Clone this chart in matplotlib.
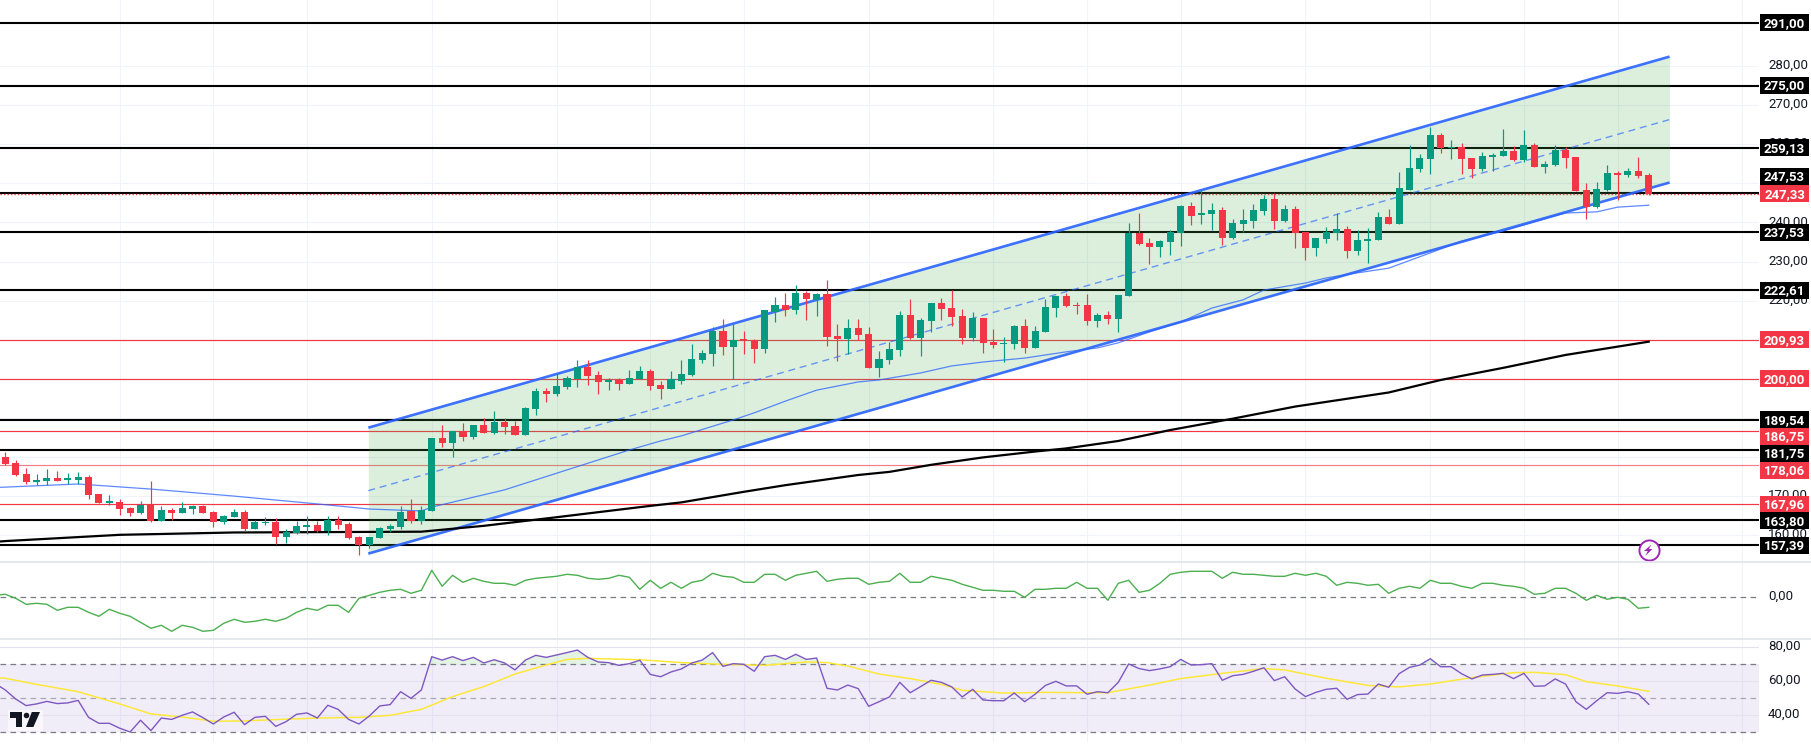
# -*- coding: utf-8 -*-
"""Daily candles with trend channel, money flow and RSI panes"""

import matplotlib as mpl
import matplotlib.pyplot as plt
from matplotlib.lines import Line2D
from matplotlib.patches import Polygon, Rectangle
from matplotlib.transforms import ScaledTranslation, blended_transform_factory

mpl.rcParams["font.family"] = ["Roboto", "DejaVu Sans"]

WIDTH, HEIGHT = 1811, 748
SCALE_X = 1759  # where the price scale begins, in pixels

opens = [
    180.0, 178.5, 175.7, 173.6, 173.9, 174.7, 174.2, 174.1, 174.9, 170.6,
    168.3, 168.5, 167.0, 165.7, 167.7, 163.7, 166.5, 165.7, 166.7, 167.5,
    166.0, 163.4, 164.7, 166.0, 161.6, 163.1, 163.4, 159.6, 160.5, 162.2,
    162.6, 161.1, 163.9, 162.9, 159.6, 157.5, 159.3, 161.6, 162.1, 166.2,
    163.7, 166.2, 184.9, 183.6, 186.7, 185.1, 188.2, 186.1, 189.0, 187.9,
    185.6, 192.3, 196.9, 196.1, 197.9, 200.0, 203.0, 201.0, 199.2, 199.7,
    198.7, 199.9, 202.0, 198.4, 197.4, 199.4, 201.0, 204.8, 206.3, 212.2,
    208.1, 209.9, 209.9, 207.6, 217.1, 218.9, 217.6, 221.9, 220.2, 221.7,
    211.0, 210.2, 213.0, 211.5, 202.8, 204.8, 207.4, 216.3, 210.4, 214.8,
    219.4, 218.1, 216.1, 210.4, 215.6, 209.4, 208.9, 208.9, 213.5, 207.9,
    212.0, 218.1, 221.2, 218.9, 218.9, 214.8, 216.3, 215.3, 221.2, 237.3,
    234.7, 233.7, 235.0, 237.3, 244.2, 241.9, 242.2, 243.2, 236.0, 239.6,
    240.4, 242.9, 246.0, 240.4, 243.4, 237.6, 233.5, 235.8, 237.3, 238.3,
    232.7, 235.3, 235.5, 241.4, 239.6, 248.3, 253.7, 256.2, 262.4, 259.0,
    259.3, 256.5, 253.7, 256.7, 257.0, 258.3, 256.0, 259.8, 254.2, 254.7,
    258.5, 256.7, 248.3, 243.9, 248.3, 252.6, 252.1, 253.2, 252.1,
]
closes = [
    178.3, 175.4, 173.6, 174.1, 174.7, 173.9, 174.4, 174.9, 170.3, 168.3,
    168.5, 166.7, 165.7, 167.7, 163.7, 166.5, 165.7, 167.0, 167.5, 165.7,
    163.4, 164.9, 166.0, 161.6, 163.4, 163.4, 159.6, 160.8, 162.4, 162.6,
    161.1, 163.9, 162.6, 159.3, 157.5, 159.6, 161.9, 162.4, 166.0, 163.7,
    166.5, 184.9, 183.6, 186.6, 185.2, 188.2, 186.2, 189.0, 187.7, 185.6,
    192.5, 196.9, 196.1, 198.2, 200.2, 203.0, 200.7, 199.2, 199.7, 198.7,
    200.2, 202.0, 198.2, 197.4, 199.9, 201.2, 205.1, 206.6, 212.2, 208.1,
    209.9, 209.8, 207.6, 217.6, 218.9, 217.6, 221.9, 220.4, 221.7, 210.7,
    210.2, 213.0, 211.2, 202.8, 205.1, 207.6, 216.3, 210.4, 215.0, 219.4,
    217.9, 215.8, 210.4, 215.6, 209.2, 208.7, 209.2, 213.5, 207.9, 212.2,
    218.4, 221.2, 218.6, 218.6, 214.8, 216.3, 215.3, 221.4, 237.3, 234.5,
    233.7, 235.2, 237.5, 244.2, 241.6, 242.4, 243.2, 236.0, 239.9, 240.6,
    243.2, 246.0, 240.4, 243.4, 237.3, 233.5, 236.0, 237.6, 238.3, 232.7,
    235.5, 235.8, 241.4, 239.6, 248.8, 253.9, 256.5, 262.4, 259.0, 259.3,
    256.2, 253.7, 257.0, 257.2, 258.3, 256.0, 259.8, 254.2, 254.9, 258.5,
    256.5, 248.0, 243.9, 248.5, 252.6, 252.1, 253.2, 251.9, 247.33,
]
highs = [
    181.4, 179.3, 177.1, 175.7, 177.0, 176.4, 175.8, 176.2, 175.4, 170.6,
    170.3, 169.3, 167.2, 168.8, 173.9, 167.5, 167.0, 168.5, 167.7, 167.7,
    166.2, 165.2, 166.7, 166.5, 163.9, 164.7, 164.4, 161.5, 163.6, 164.9,
    163.6, 164.9, 164.9, 163.4, 159.8, 159.6, 162.2, 162.9, 167.5, 169.3,
    167.5, 184.9, 188.2, 186.6, 188.7, 188.2, 190.0, 191.8, 190.0, 189.2,
    192.8, 197.6, 197.6, 201.2, 200.7, 204.8, 204.8, 202.0, 200.2, 200.2,
    202.3, 203.3, 202.5, 199.4, 202.0, 204.8, 208.9, 207.4, 213.3, 215.3,
    214.0, 212.2, 210.2, 217.6, 220.9, 221.9, 224.0, 222.5, 221.9, 225.3,
    214.0, 215.3, 215.3, 213.3, 207.1, 209.4, 217.3, 220.4, 215.6, 219.4,
    220.7, 222.7, 217.9, 217.1, 215.6, 212.7, 210.7, 213.8, 215.3, 213.5,
    220.4, 221.2, 221.9, 219.6, 221.7, 216.8, 217.3, 221.4, 239.9, 242.4,
    236.0, 235.5, 238.1, 244.5, 245.2, 248.3, 245.0, 243.9, 240.9, 243.4,
    244.7, 247.0, 247.5, 244.5, 244.2, 237.6, 236.0, 238.8, 242.4, 239.1,
    238.1, 238.6, 242.7, 243.4, 252.9, 259.8, 257.5, 264.4, 262.9, 261.1,
    260.3, 256.5, 258.0, 257.8, 263.9, 259.6, 263.6, 260.3, 255.7, 259.8,
    259.3, 256.7, 250.1, 250.3, 254.7, 253.2, 253.9, 256.7, 252.6,
]
lows = [
    178.0, 175.2, 173.1, 172.8, 172.9, 173.9, 173.1, 173.1, 169.3, 168.3,
    167.7, 165.2, 164.9, 165.4, 163.4, 163.7, 163.9, 165.7, 165.4, 165.7,
    162.1, 162.9, 164.7, 161.0, 161.6, 162.6, 157.8, 157.9, 160.3, 160.3,
    160.8, 160.1, 161.6, 159.0, 155.0, 156.8, 159.3, 160.8, 161.6, 163.1,
    162.9, 166.2, 182.6, 180.0, 184.1, 184.6, 186.2, 185.8, 185.9, 185.6,
    185.6, 190.7, 194.1, 195.6, 197.4, 197.9, 198.4, 196.1, 197.1, 197.1,
    198.7, 199.9, 197.1, 194.8, 197.4, 198.7, 200.7, 204.0, 203.3, 206.1,
    199.9, 206.3, 204.0, 206.6, 214.5, 216.1, 216.6, 215.0, 216.1, 208.4,
    204.6, 206.3, 209.9, 202.8, 200.5, 203.8, 205.8, 210.2, 205.8, 212.0,
    215.0, 213.5, 208.9, 209.7, 206.6, 207.9, 204.3, 207.6, 206.6, 207.9,
    212.0, 215.8, 218.4, 216.6, 213.8, 213.3, 214.0, 212.0, 221.2, 234.2,
    229.4, 231.2, 231.7, 234.0, 239.3, 239.6, 238.1, 234.2, 235.8, 237.5,
    238.6, 241.9, 238.3, 240.1, 233.5, 230.4, 231.4, 234.7, 235.5, 230.9,
    231.7, 229.6, 235.5, 239.6, 239.6, 248.3, 252.9, 252.4, 257.8, 256.2,
    252.4, 251.4, 253.2, 253.2, 257.0, 255.7, 255.5, 254.2, 252.6, 254.4,
    253.9, 248.0, 240.9, 243.7, 248.0, 245.7, 251.6, 251.4, 247.0,
]

# the moving averages come in from the bar just left of the picture (index -1)
ma50_idx = [-1, 0, 7, 14, 22, 30, 35, 40, 41, 48, 54, 60, 63, 65, 70, 72, 75, 78, 82, 84, 88, 91,
            94, 98, 102, 105, 107, 110, 113, 116, 119, 121, 125, 127, 130, 133, 137, 140, 144,
            147, 150, 153, 155, 158]
ma50 = [172.2, 172.3, 173.1, 171.8, 170.0, 168.0, 166.7, 166.2, 167.2, 171.6, 176.7, 181.8, 184.1,
        185.4, 189.5, 191.3, 194.3, 197.1, 199.2, 199.7, 201.5, 203.3, 204.3, 205.3, 206.9, 207.9,
        209.2, 212.0, 214.5, 218.1, 220.2, 222.7, 224.5, 225.8, 227.1, 228.3, 232.2, 235.2, 237.8,
        240.1, 242.4, 242.7, 243.9, 244.4]

ma200_idx = [-1, 0, 11, 22, 40, 46, 53, 62, 65, 71, 75, 82, 85, 89, 94, 99, 102, 107, 112, 118, 124,
             133, 138, 144, 150, 158]
ma200 = [158.3, 158.5, 160.1, 160.7, 160.9, 162.4, 164.6, 167.5, 168.4, 171.1, 172.8, 175.4, 176.2,
         178.0, 179.9, 181.4, 182.2, 184.1, 186.9, 189.8, 192.9, 196.5, 199.7, 202.8, 206.1, 209.5]

channel_idx = [34.9, 160.0]
channel_upper = [187.5, 282.4]
channel_mid = [171.4, 266.3]
channel_lower = [155.3, 250.2]

black_levels = [291.00, 275.00, 259.13, 247.53, 237.53, 222.61, 189.54, 181.75, 163.80, 157.39]
red_levels = [209.93, 200.00, 186.75, 178.06, 167.96]
last_price = 247.33

# level, box colour, how far the box was pushed off its line by the scale (in price units)
price_boxes = [
    (291.00, "#000000", 0), (275.00, "#000000", 0), (259.13, "#000000", 0),
    (247.53, "#000000", 4.2), (247.33, "#F23645", 0), (237.53, "#000000", 0),
    (222.61, "#000000", 0), (209.93, "#F23645", 0), (200.00, "#F23645", 0),
    (189.54, "#000000", 0), (186.75, "#F23645", -1.5), (181.75, "#000000", -0.8),
    (178.06, "#F23645", -1.5), (167.96, "#F23645", 0), (163.80, "#000000", -0.1),
    (157.39, "#000000", 0),
]

price_grid = [160, 170, 180, 190, 200, 210, 220, 230, 240, 250, 260, 270, 280]
# the others are hidden behind the level boxes on the scale
price_ticks = [160, 170, 220, 230, 240, 260, 270, 280]
rsi_ticks = [40, 60, 80]
grid_idx = [11, 20, 29, 41, 53, 62, 71, 83, 95, 104, 113, 125, 137, 146, 155, 167]

# both indicator series start at index -1
flow = [
    0.02, 0.03, -0.01, -0.07, -0.06, -0.07, -0.13, -0.10, -0.10, -0.15, -0.19,
    -0.12, -0.16, -0.19, -0.25, -0.31, -0.28, -0.34, -0.28, -0.30, -0.34,
    -0.33, -0.26, -0.22, -0.25, -0.24, -0.22, -0.24, -0.21, -0.15, -0.11,
    -0.13, -0.08, -0.08, -0.15, -0.01, 0.02, 0.05, 0.07, 0.08, 0.04,
    0.07, 0.27, 0.11, 0.22, 0.15, 0.19, 0.16, 0.14, 0.14, 0.12,
    0.17, 0.19, 0.20, 0.21, 0.23, 0.22, 0.19, 0.18, 0.19, 0.22,
    0.20, 0.08, 0.17, 0.09, 0.15, 0.09, 0.15, 0.17, 0.24, 0.21,
    0.20, 0.15, 0.15, 0.23, 0.23, 0.17, 0.22, 0.24, 0.26, 0.16,
    0.18, 0.19, 0.19, 0.13, 0.15, 0.16, 0.24, 0.15, 0.15, 0.21,
    0.19, 0.17, 0.13, 0.10, 0.07, 0.07, 0.06, 0.06, 0.00, 0.08,
    0.08, 0.09, 0.09, 0.15, 0.09, 0.09, -0.03, 0.14, 0.17, 0.05,
    0.07, 0.14, 0.23, 0.25, 0.26, 0.26, 0.26, 0.19, 0.25, 0.23,
    0.23, 0.22, 0.21, 0.21, 0.24, 0.22, 0.24, 0.21, 0.12, 0.15,
    0.14, 0.12, 0.13, 0.04, 0.09, 0.11, 0.09, 0.17, 0.14, 0.14,
    0.11, 0.09, 0.14, 0.14, 0.12, 0.11, 0.09, 0.03, 0.04, 0.09,
    0.09, 0.04, -0.03, 0.02, -0.02, 0.00, -0.02, -0.11, -0.10,
]
rsi = [
    58.8, 54.9, 49.6, 45.7, 46.7, 48.2, 46.9, 47.3, 48.8, 38.8, 35.3,
    35.3, 32.4, 30.2, 37.1, 31.0, 38.4, 37.6, 40.0, 42.0, 38.6,
    34.9, 39.0, 41.8, 34.5, 38.8, 39.4, 33.5, 36.3, 40.6, 41.4,
    38.4, 45.9, 43.5, 37.6, 34.9, 39.6, 45.5, 46.3, 53.9, 50.0,
    54.9, 74.5, 72.5, 74.5, 72.2, 74.1, 70.8, 72.7, 70.8, 66.7,
    72.5, 75.3, 74.1, 75.5, 76.9, 78.4, 74.1, 71.4, 71.0, 69.4,
    70.4, 72.4, 64.1, 62.7, 65.5, 67.3, 70.8, 72.5, 76.9, 68.8,
    70.4, 70.0, 65.9, 74.5, 75.3, 72.9, 75.9, 72.9, 73.7, 55.9,
    54.9, 57.8, 55.7, 45.3, 48.0, 50.8, 59.4, 53.3, 56.9, 60.6,
    59.4, 56.7, 50.8, 55.3, 49.0, 48.6, 48.6, 53.1, 48.0, 52.4,
    57.6, 60.0, 57.3, 57.3, 52.4, 53.9, 53.3, 59.4, 70.2, 67.5,
    66.3, 67.3, 68.6, 72.9, 69.6, 69.8, 70.4, 60.6, 63.3, 64.1,
    65.9, 68.0, 60.4, 62.7, 55.5, 51.0, 53.5, 55.3, 55.9, 49.4,
    52.2, 52.5, 58.4, 56.5, 64.5, 68.2, 69.6, 73.3, 68.6, 68.6,
    64.5, 61.4, 63.7, 64.1, 64.7, 61.6, 64.7, 57.1, 57.3, 61.4,
    58.4, 48.0, 43.5, 48.6, 53.3, 52.9, 53.9, 52.5, 46.5,
]
rsi_ma_idx = [-1, 0, 3, 7, 11, 14, 17, 20, 23, 26, 30, 34, 37, 40, 43, 46, 49, 52, 54, 56, 61, 65,
              69, 73, 77, 79, 81, 84, 87, 90, 92, 96, 100, 104, 106, 110, 113, 117, 121, 123,
              127, 131, 134, 137, 141, 145, 147, 150, 152, 155, 158]
rsi_ma = [62.2, 61.8, 58.2, 53.9, 46.7, 40.8, 39.0, 36.5, 36.7, 37.5, 38.4, 38.8, 40.0, 43.5, 51.0,
          56.9, 64.3, 69.6, 72.9, 73.5, 72.7, 71.0, 70.0, 69.4, 71.4, 71.0, 69.0, 64.3, 61.6, 58.2,
          54.7, 53.1, 53.5, 53.3, 53.3, 57.8, 61.6, 64.7, 67.5, 66.7, 61.8, 57.6, 56.7, 58.4, 62.2,
          65.1, 65.3, 63.9, 59.8, 57.3, 54.1]

GREEN = "#089981"
RED = "#F23645"
BLUE = "#2962FF"
GRID = "#f0f3fa"
TEXT = "#131722"
XLIM = (-0.51, 168.6)


def add_pane(fig, top, bottom):
    """Make one pane out of its top and bottom edge in pixels"""
    ax = fig.add_axes([0, 1 - bottom / HEIGHT, SCALE_X / WIDTH, (bottom - top) / HEIGHT])
    ax.set_xlim(*XLIM)
    for spine in ax.spines.values():
        spine.set_visible(False)
    ax.yaxis.tick_right()
    ax.tick_params(axis="y", length=0, pad=6.5, labelsize=9.5, labelcolor=TEXT)
    ax.set_xticks([])
    for idx in grid_idx:
        ax.axvline(idx, color=GRID, lw=0.8, zorder=0)
    ax.patch.set_alpha(0)
    return ax


def raise_tick_labels(ax):
    """The scale prints its numbers a little above the gridline"""
    for label in ax.get_yticklabels():
        label.set_transform(label.get_transform() + ScaledTranslation(0, 1.5 / 72, fig.dpi_scale_trans))


def comma(value):
    return f"{value:.2f}".replace(".", ",")


def px(x, y):
    return (x / WIDTH, 1 - y / HEIGHT)


fig = plt.figure(figsize=(WIDTH / 100, HEIGHT / 100), dpi=100, facecolor="white")

# price pane
ax = add_pane(fig, 0, 562)
ax.set_ylim(153.15, 296.88)
ax.set_yticks(price_ticks, [comma(t) for t in price_ticks])
raise_tick_labels(ax)
for tick in price_grid:
    ax.axhline(tick, color=GRID, lw=0.8, zorder=0)

for level in black_levels:
    ax.axhline(level, color="black", lw=1.5, zorder=1)
for level in red_levels:
    ax.axhline(level, color=RED, lw=0.85, zorder=1, alpha=0.65 if level == 178.06 else 1)
ax.axhline(last_price, color=RED, lw=1, ls=(0, (1, 1.5)), zorder=1.2)

ax.fill_between(channel_idx, channel_lower, channel_upper, color="#4CAF50", alpha=0.2, lw=0, zorder=1.5)
ax.plot(channel_idx, channel_upper, color=BLUE, lw=1.9, alpha=0.9, zorder=2, solid_capstyle="butt")
ax.plot(channel_idx, channel_lower, color=BLUE, lw=1.9, alpha=0.9, zorder=2, solid_capstyle="butt")
ax.plot(channel_idx, channel_mid, color=BLUE, lw=1, alpha=0.65, ls=(0, (5, 3.5)), zorder=2)

ax.plot(ma50_idx, ma50, color=BLUE, lw=0.9, alpha=0.75, zorder=2.2)
ax.plot(ma200_idx, ma200, color="black", lw=1.6, zorder=2.2)

colors = [GREEN if c >= o else RED for o, c in zip(opens, closes)]
positions = list(range(len(opens)))
ax.vlines(positions, lows, highs, colors=colors, lw=0.85, zorder=3)
body_low = [min(o, c) for o, c in zip(opens, closes)]
body_size = [max(abs(c - o), 0.35) for o, c in zip(opens, closes)]
ax.bar(positions, body_size, bottom=body_low, width=0.68, color=colors, lw=0, zorder=3.2)

# lightning mark on the last bar
ax.plot([158], [156.2], "o", ms=14.5, mfc="white", mec="#9C27B0", mew=1.4, zorder=4)
fig.add_artist(Polygon([px(1651.5, 544.5), px(1644, 551), px(1647.8, 551), px(1645.2, 556),
                        px(1652.5, 549), px(1648.8, 549)],
                       closed=True, color="#9C27B0", lw=0, transform=fig.transFigure, zorder=5))

# price labels sitting on the scale
box_trans = blended_transform_factory(ax.transAxes, ax.transData)
box_x = 1760 / SCALE_X
box_w = 49 / SCALE_X
box_h = 4.35
for level, color, shift in price_boxes:
    y = level + shift
    ax.add_patch(Rectangle((box_x, y - box_h / 2), box_w, box_h, transform=box_trans, color=color,
                           lw=0, clip_on=False, zorder=6))
    ax.text(box_x + box_w / 2, y + 0.25, comma(level), transform=box_trans, color="white", fontsize=9.5,
            fontweight="bold", ha="center", va="center_baseline", clip_on=False, zorder=7)

# money flow pane
ax2 = add_pane(fig, 562, 639)
ax2.set_ylim(-0.417, 0.353)
ax2.set_yticks([0], [comma(0)])
raise_tick_labels(ax2)
ax2.axhline(0, color="#787b86", lw=0.9, ls=(0, (4.5, 3.5)), zorder=1)
line_idx = list(range(-1, len(opens)))
ax2.plot(line_idx, flow, color="#4CAF50", lw=1, zorder=2)

# RSI pane
ax3 = add_pane(fig, 639, 742)
ax3.set_ylim(24.3, 84.9)
ax3.set_yticks(rsi_ticks, [comma(t) for t in rsi_ticks])
raise_tick_labels(ax3)
ax3.axhspan(30, 70, color="#7E57C2", alpha=0.1, lw=0, zorder=0.8)
for tick in rsi_ticks:
    ax3.axhline(tick, color="#e4e2ef", lw=0.8, zorder=0.9)
ax3.axhline(70, color="#787b86", lw=0.9, ls=(0, (4.5, 3.5)), zorder=1)
ax3.axhline(50, color="#787b86", lw=0.9, ls=(0, (4.5, 3.5)), alpha=0.6, zorder=1)
ax3.axhline(30, color="#787b86", lw=0.9, ls=(0, (4.5, 3.5)), zorder=1)
ax3.fill_between(line_idx, 70, rsi, where=[r > 70 for r in rsi], interpolate=True,
                 color="#4CAF50", alpha=0.15, lw=0, zorder=1.2)
ax3.plot(rsi_ma_idx, rsi_ma, color="#FDE83A", lw=1.1, zorder=2)
ax3.plot(line_idx, rsi, color="#7E57C2", lw=1, zorder=2.2)

# pane separators
for y in (562, 639):
    fig.add_artist(Line2D([0, 1], [1 - y / HEIGHT] * 2, color="#e0e3eb", lw=1.2))

# the small logo in the corner of the RSI pane
logo = "#131722"
fig.add_artist(Rectangle(px(8, 731), 35 / WIDTH, 21 / HEIGHT, color="white", alpha=0.6, lw=0,
                         transform=fig.transFigure))
fig.add_artist(Polygon([px(10, 712), px(22, 712), px(22, 727), px(15.7, 727), px(15.7, 717.5), px(10, 717.5)],
                       closed=True, color=logo, lw=0, transform=fig.transFigure))
fig.add_artist(Polygon([px(31.8, 712), px(40, 712), px(33.4, 727), px(26, 727)],
                       closed=True, color=logo, lw=0, transform=fig.transFigure))
fig.add_artist(Line2D([26.0 / WIDTH], [1 - 714.7 / HEIGHT], marker="o", ms=4, mfc=logo, mec=logo, mew=0,
                      ls="", transform=fig.transFigure))

fig.savefig("out.png", dpi=100)
